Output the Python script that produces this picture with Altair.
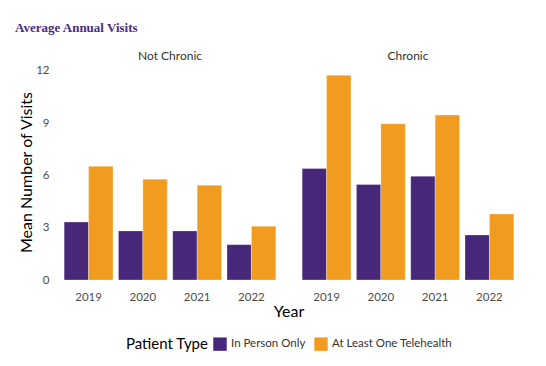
import altair as alt
import pandas as pd

years = ["2019", "2020", "2021", "2022"]
groups = ["Not Chronic", "Chronic"]
types = ["In Person Only", "At Least One Telehealth"]

in_person_not_chronic = [3.33, 2.82, 2.82, 2.03]
telehealth_not_chronic = [6.53, 5.79, 5.44, 3.09]
in_person_chronic = [6.40, 5.48, 5.96, 2.59]
telehealth_chronic = [11.76, 8.97, 9.47, 3.79]

rows = []
for g, ip, th in [("Not Chronic", in_person_not_chronic, telehealth_not_chronic),
                  ("Chronic", in_person_chronic, telehealth_chronic)]:
    for y, a, b in zip(years, ip, th):
        rows.append({"group": g, "year": y, "type": types[0], "visits": a})
        rows.append({"group": g, "year": y, "type": types[1], "visits": b})
df = pd.DataFrame(rows)

purple = "#46277A"
orange = "#F29C1F"
font = "Lato"

base = alt.Chart(df).mark_bar(stroke="white", strokeWidth=0.6, strokeOpacity=0.5).encode(
    x=alt.X("year:N", sort=years, title=None,
            scale=alt.Scale(paddingInner=0.1, paddingOuter=0.15),
            axis=alt.Axis(labelAngle=0, ticks=False, domain=False, labelPadding=10,
                          labelFontSize=11.5, labelColor="#4d4d4d", labelFont=font)),
    xOffset=alt.XOffset("type:N", sort=types,
                        scale=alt.Scale(paddingInner=0, paddingOuter=0)),
    y=alt.Y("visits:Q", title="Mean Number of Visits",
            scale=alt.Scale(domain=[0, 12.4], nice=False),
            axis=alt.Axis(values=[0, 3, 6, 9, 12], grid=False, domain=False, ticks=False,
                          labelPadding=7, labelFontSize=11.5, labelColor="#4d4d4d", labelFont=font,
                          titleFontSize=16, titleFontWeight="normal", titleColor="black",
                          titleFont=font, titlePadding=1)),
    color=alt.Color("type:N", sort=types,
                    scale=alt.Scale(domain=types, range=[purple, orange]),
                    legend=alt.Legend(title="Patient Type", orient="none",
                                      legendX=70, legendY=273, direction="horizontal",
                                      titleOrient="left", symbolType="square", symbolSize=180,
                                      symbolStrokeWidth=0, titleFontSize=15,
                                      titleFontWeight="normal", titleColor="black", titleFont=font,
                                      labelFontSize=11.5, labelColor="#333333", labelFont=font,
                                      columnPadding=8, titlePadding=4)),
).properties(width=228, height=216)

chart = base.facet(
    column=alt.Column("group:N", sort=groups, title="Year",
                      header=alt.Header(labelOrient="top", titleOrient="bottom",
                                        labelFontSize=12, labelColor="#333333", labelFont=font,
                                        labelPadding=1,
                                        titleFontSize=16, titleFontWeight="normal",
                                        titleColor="black", titleFont=font, titlePadding=-9)),
    spacing=10,
).properties(
    title=alt.Title("Average Annual Visits", anchor="start", frame="group",
                    font="Liberation Serif", fontSize=13, fontWeight="bold",
                    color="#4B2C83", offset=15, dx=-41),
    padding={"left": 7, "top": 14, "right": 5, "bottom": 5},
    background="white",
).configure_view(stroke=None)

chart.save("out.html", embed_options={"renderer": "svg", "actions": False})
